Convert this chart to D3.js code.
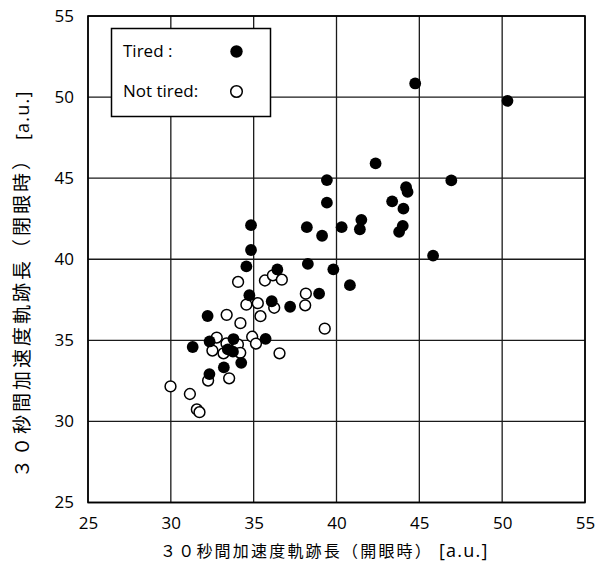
<!DOCTYPE html>
<html>
<head>
<meta charset="utf-8">
<script src="https://cdn.jsdelivr.net/npm/d3@7"></script>
<style>
  html, body { margin: 0; padding: 0; background: #fff; }
  svg { display: block; }
  text { font-family: "Open Sans", "DejaVu Sans", sans-serif; fill: #000; }
  .jp { font-family: "Noto Sans CJK JP", "Noto Sans CJK SC", sans-serif; }
</style>
</head>
<body>
<svg id="chart" width="609" height="565"></svg>
<script>
// ---- Data ----
const xTicks = [25, 30, 35, 40, 45, 50, 55];
const yTicks = [25, 30, 35, 40, 45, 50, 55];
const xLabel = "３０秒間加速度軌跡長（開眼時）";
const yLabel = "３０秒間加速度軌跡長（閉眼時）";
const unitLabel = "[a.u.]";
const legendLabels = ["Tired :", "Not tired:"];

const tiredX = [44.75, 50.32, 42.36, 39.42, 46.93, 44.20, 44.29, 39.42, 43.36, 44.04,
                41.50, 41.41, 38.21, 40.31, 39.13, 44.00, 43.78, 45.83, 38.27, 39.81,
                40.81, 38.95, 34.84, 34.84, 34.56, 36.43, 34.74, 36.09, 37.20, 35.72,
                32.22, 33.78, 32.34, 31.32, 33.44, 33.75, 34.25, 33.20, 32.33];
const tiredY = [50.84, 49.77, 45.91, 44.88, 44.86, 44.44, 44.15, 43.49, 43.57, 43.12,
                42.43, 41.85, 41.98, 41.98, 41.45, 42.06, 41.69, 40.22, 39.71, 39.38,
                38.40, 37.88, 42.10, 40.57, 39.56, 39.37, 37.78, 37.41, 37.07, 35.09,
                36.50, 35.08, 34.93, 34.59, 34.44, 34.30, 33.61, 33.33, 32.92];

const notTiredX = [38.15, 38.11, 34.06, 35.68, 36.16, 36.70, 34.56, 35.25, 36.24, 35.41,
                   34.20, 39.29, 34.91, 33.37, 32.77, 35.14, 32.51, 33.36, 34.05, 34.19,
                   33.18, 36.56, 32.25, 33.52, 29.98, 31.15, 31.57, 31.73];
const notTiredY = [37.88, 37.16, 38.60, 38.69, 39.01, 38.74, 37.20, 37.29, 37.01, 36.49,
                   36.06, 35.72, 35.22, 36.57, 35.17, 34.80, 34.37, 34.81, 34.75, 34.23,
                   34.20, 34.20, 32.52, 32.66, 32.16, 31.69, 30.74, 30.57];

// ---- Layout ----
const svg = d3.select("#chart");
const mLeft = 88, mRight = 585, mTop = 16, mBottom = 502.5;

const x = d3.scaleLinear().domain([25, 55]).range([mLeft, mRight]);
const y = d3.scaleLinear().domain([25, 55]).range([mBottom, mTop]);

// Grid
const grid = svg.append("g");
grid.selectAll("line.vx").data(xTicks).join("line")
  .attr("x1", d => x(d)).attr("x2", d => x(d))
  .attr("y1", mTop).attr("y2", mBottom)
  .attr("stroke", "#1a1a1a").attr("stroke-width", 1.3);
grid.selectAll("line.hy").data(yTicks).join("line")
  .attr("y1", d => y(d)).attr("y2", d => y(d))
  .attr("x1", mLeft).attr("x2", mRight)
  .attr("stroke", "#1a1a1a").attr("stroke-width", 1.3);

// Frame
svg.append("rect").attr("x", mLeft).attr("y", mTop)
  .attr("width", mRight - mLeft).attr("height", mBottom - mTop)
  .attr("fill", "none").attr("stroke", "#000").attr("stroke-width", 1.6);

// Axes tick labels
const xAxis = d3.axisBottom(x).tickValues(xTicks).tickSize(0).tickPadding(14);
const gx = svg.append("g").attr("transform", `translate(0,${mBottom})`).call(xAxis);
gx.select(".domain").remove();
gx.selectAll("text").style("font-size", "17px").attr("font-family", "Open Sans, DejaVu Sans, sans-serif");

const yAxis = d3.axisLeft(y).tickValues(yTicks).tickSize(0).tickPadding(14);
const gy = svg.append("g").attr("transform", `translate(${mLeft},0)`).call(yAxis);
gy.select(".domain").remove();
gy.selectAll("text").style("font-size", "17px").attr("font-family", "Open Sans, DejaVu Sans, sans-serif");

// Axis titles
const xt = svg.append("text").attr("x", 160).attr("y", 557).attr("text-anchor", "start");
xt.append("tspan").attr("class", "jp").style("font-size", "16px").style("letter-spacing", "2.2px").text(xLabel);
xt.append("tspan").attr("dx", 6).style("font-size", "18px").style("letter-spacing", "1.2px").text(unitLabel);

const yt = svg.append("text").attr("transform", "translate(29,478) rotate(-90)")
  .attr("text-anchor", "start");
yt.append("tspan").attr("class", "jp").style("font-size", "19px").style("letter-spacing", "3px").text(yLabel);
yt.append("tspan").attr("dx", 8).style("font-size", "18px").style("letter-spacing", "1.2px").text(unitLabel);

// Points
const r = 5.4;
const tired = d3.zip(tiredX, tiredY);
const notTired = d3.zip(notTiredX, notTiredY);
svg.append("g").selectAll("circle").data(notTired).join("circle")
  .attr("cx", d => x(d[0])).attr("cy", d => y(d[1])).attr("r", r)
  .attr("fill", "#fff").attr("stroke", "#000").attr("stroke-width", 1.5);
svg.append("g").selectAll("circle").data(tired).join("circle")
  .attr("cx", d => x(d[0])).attr("cy", d => y(d[1])).attr("r", r + 0.5)
  .attr("fill", "#000");

// Legend
const lg = svg.append("g");
lg.append("rect").attr("x", 111.5).attr("y", 28.5).attr("width", 159).attr("height", 88)
  .attr("fill", "#fff").attr("stroke", "#000").attr("stroke-width", 1.5);
lg.append("text").attr("x", 123).attr("y", 57).style("font-size", "17px").text(legendLabels[0]);
lg.append("text").attr("x", 123).attr("y", 97).style("font-size", "17px").text(legendLabels[1]);
lg.append("circle").attr("cx", 236.5).attr("cy", 51.5).attr("r", 6.2).attr("fill", "#000");
lg.append("circle").attr("cx", 236.5).attr("cy", 91.5).attr("r", 5.8)
  .attr("fill", "#fff").attr("stroke", "#000").attr("stroke-width", 1.5);
</script>
</body>
</html>
